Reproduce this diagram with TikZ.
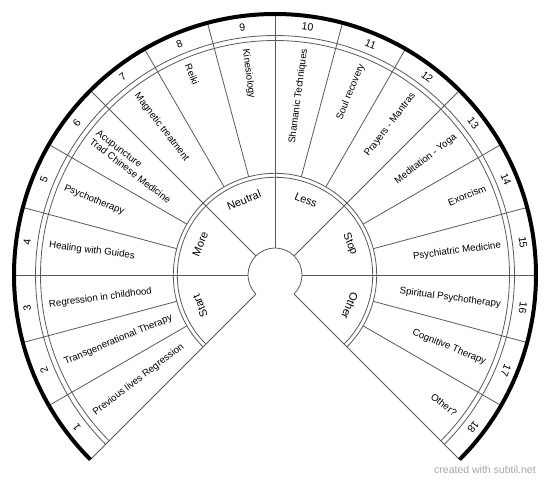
\documentclass[tikz,border=0pt]{standalone}
\usepackage{fontspec}
\setmainfont{Liberation Sans}
\usepackage{tikz}
\tikzset{
  spoke/.style   = {draw=black!65, line width=0.8pt},
  ringline/.style = {draw=black!65, line width=0.8pt},
  rim/.style     = {draw=black, line width=4pt},
  numlab/.style  = {font=\fontsize{10.5}{12}\selectfont, inner sep=0pt},
  seclab/.style  = {font=\fontsize{9.7}{11}\selectfont, inner sep=0pt, align=left},
  modelab/.style = {font=\fontsize{11}{13}\selectfont, inner sep=0pt},
  credit/.style  = {font=\fontsize{10.5}{12}\selectfont, text=black!35, inner sep=0pt},
}
\begin{document}
\begin{tikzpicture}
  \useasboundingbox (-275pt,-207pt) rectangle (275pt,275pt);
  \coordinate (c) at (0,0);
  % long spokes
  \draw[spoke] (225:27pt) -- (225:261pt);
  \draw[spoke] (180:27pt) -- (180:261pt);
  \draw[spoke] (135:27pt) -- (135:261pt);
  \draw[spoke] (90:27pt) -- (90:261pt);
  \draw[spoke] (45:27pt) -- (45:261pt);
  \draw[spoke] (0:27pt) -- (0:261pt);
  \draw[spoke] (-45:27pt) -- (-45:261pt);
  % short spokes
  \draw[spoke] (210:101.7pt) -- (210:261pt);
  \draw[spoke] (195:101.7pt) -- (195:261pt);
  \draw[spoke] (165:101.7pt) -- (165:261pt);
  \draw[spoke] (150:101.7pt) -- (150:261pt);
  \draw[spoke] (120:101.7pt) -- (120:261pt);
  \draw[spoke] (105:101.7pt) -- (105:261pt);
  \draw[spoke] (75:101.7pt) -- (75:261pt);
  \draw[spoke] (60:101.7pt) -- (60:261pt);
  \draw[spoke] (30:101.7pt) -- (30:261pt);
  \draw[spoke] (15:101.7pt) -- (15:261pt);
  \draw[spoke] (-15:101.7pt) -- (-15:261pt);
  \draw[spoke] (-30:101.7pt) -- (-30:261pt);
  % rings
  \draw[ringline] (-45:27pt) arc[start angle=-45, end angle=225, radius=27pt];
  \draw[ringline] (225:97.7pt) arc[start angle=225, end angle=-45, radius=97.7pt];
  \draw[ringline] (225:101.7pt) arc[start angle=225, end angle=-45, radius=101.7pt];
  \draw[ringline] (225:234.5pt) arc[start angle=225, end angle=-45, radius=234.5pt];
  \draw[ringline] (225:239.5pt) arc[start angle=225, end angle=-45, radius=239.5pt];
  \draw[rim] (225:261pt) arc[start angle=225, end angle=-45, radius=261pt];
  % inner labels
  \node[modelab, rotate=112.5] (start)   at (202.5:81pt) {Start};
  \node[modelab, rotate=67.5]  (more)    at (157.5:81pt) {More};
  \node[modelab, rotate=22.5]  (neutral) at (112.5:81pt) {Neutral};
  \node[modelab, rotate=-22.5] (less)    at (67.5:81pt)  {Less};
  \node[modelab, rotate=-67.5] (stop)    at (22.5:81pt)  {Stop};
  \node[modelab, rotate=-112.5] (other)  at (-22.5:81pt) {Other};
  % sector labels
  \node[seclab, rotate=37.5, anchor=west]  (s1) at (217.5:228pt) {Previous lives Regression};
  \node[seclab, rotate=22.5, anchor=west]  (s2) at (202.5:228pt) {Transgenerational Therapy};
  \node[seclab, rotate=7.5, anchor=west]   (s3) at (187.5:228pt) {Regression in childhood};
  \node[seclab, rotate=-7.5, anchor=west]  (s4) at (172.5:228pt) {Healing with Guides};
  \node[seclab, rotate=-22.5, anchor=west] (s5) at (157.5:228pt) {Psychotherapy};
  \node[seclab, rotate=-37.5, anchor=west] (s6) at (142.5:228pt) {Acupuncture\\Trad Chinese Medicine};
  \node[seclab, rotate=-52.5, anchor=west] (s7) at (127.5:228pt) {Magnetic treatment};
  \node[seclab, rotate=-67.5, anchor=west] (s8) at (112.5:228pt) {Reiki};
  \node[seclab, rotate=-82.5, anchor=west] (s9) at (97.5:228pt) {Kinesiology};
  \node[seclab, rotate=82.5, anchor=east]  (s10) at (82.5:228pt) {Shamanic Techniques};
  \node[seclab, rotate=67.5, anchor=east]  (s11) at (67.5:228pt) {Soul recovery};
  \node[seclab, rotate=52.5, anchor=east]  (s12) at (52.5:228pt) {Prayers - Mantras};
  \node[seclab, rotate=37.5, anchor=east]  (s13) at (37.5:228pt) {Meditation - Yoga};
  \node[seclab, rotate=22.5, anchor=east]  (s14) at (22.5:228pt) {Exorcism};
  \node[seclab, rotate=7.5, anchor=east]   (s15) at (7.5:228pt) {Psychiatric Medicine};
  \node[seclab, rotate=-7.5, anchor=east]  (s16) at (-7.5:228pt) {Spiritual Psychotherapy};
  \node[seclab, rotate=-22.5, anchor=east] (s17) at (-22.5:228pt) {Cognitive Therapy};
  \node[seclab, rotate=-37.5, anchor=east] (s18) at (-37.5:228pt) {Other?};
  % numbers
  \node[numlab, rotate=127.5] (n1)  at (217.5:250pt) {1};
  \node[numlab, rotate=112.5] (n2)  at (202.5:250pt) {2};
  \node[numlab, rotate=97.5]  (n3)  at (187.5:250pt) {3};
  \node[numlab, rotate=82.5]  (n4)  at (172.5:250pt) {4};
  \node[numlab, rotate=67.5]  (n5)  at (157.5:250pt) {5};
  \node[numlab, rotate=52.5]  (n6)  at (142.5:250pt) {6};
  \node[numlab, rotate=37.5]  (n7)  at (127.5:250pt) {7};
  \node[numlab, rotate=22.5]  (n8)  at (112.5:250pt) {8};
  \node[numlab, rotate=7.5]   (n9)  at (97.5:250pt)  {9};
  \node[numlab, rotate=-7.5]  (n10) at (82.5:250pt)  {10};
  \node[numlab, rotate=-22.5] (n11) at (67.5:250pt)  {11};
  \node[numlab, rotate=-37.5] (n12) at (52.5:250pt)  {12};
  \node[numlab, rotate=-52.5] (n13) at (37.5:250pt)  {13};
  \node[numlab, rotate=-67.5] (n14) at (22.5:250pt)  {14};
  \node[numlab, rotate=-82.5] (n15) at (7.5:250pt)   {15};
  \node[numlab, rotate=-97.5] (n16) at (-7.5:250pt)  {16};
  \node[numlab, rotate=-112.5] (n17) at (-22.5:250pt) {17};
  \node[numlab, rotate=-127.5] (n18) at (-37.5:250pt) {18};
  \node[credit] (credit) at (210pt,-195pt) {created with subtil.net};
\end{tikzpicture}
\end{document}
